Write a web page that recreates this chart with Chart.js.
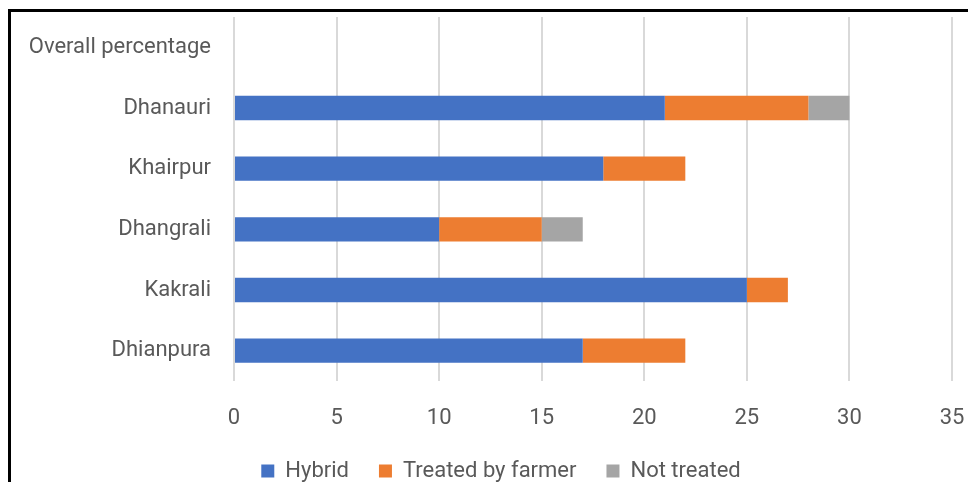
<!DOCTYPE html>
<html lang="en">
<head>
    <meta charset="UTF-8">
    <title>Seed treatment by village</title>
    <style>
        html, body { margin: 0; padding: 0; background: #fff; overflow: hidden; }
        #frame {
            position: absolute;
            left: 8px;
            top: 9px;
            width: 1100px;
            height: 600px;
            border-top: 3px solid #000;
            border-left: 3px solid #000;
        }
        #wrap {
            position: absolute;
            left: 0;
            top: 0;
            width: 968px;
            height: 492px;
        }
    </style>
</head>
<body>
    <div id="frame"></div>
    <div id="wrap"><canvas id="myBarChart"></canvas></div>

    <script src="https://cdn.jsdelivr.net/npm/chart.js"></script>

    <script>
        const villages = ['Overall percentage', 'Dhanauri', 'Khairpur', 'Dhangrali', 'Kakrali', 'Dhianpura'];
        const hybrid = [null, 21, 18, 10, 25, 17];
        const treatedByFarmer = [null, 7, 4, 5, 2, 5];
        const notTreated = [null, 2, 0, 2, 0, 0];
        const xTicks = [0, 5, 10, 15, 20, 25, 30, 35];

        const textColor = '#595959';
        const fontFamily = 'Roboto, "Open Sans", sans-serif';

        // nudge the legend a bit right, Excel centres it under the plot
        const legendShift = {
            id: 'legendShift',
            afterLayout(chart) {
                chart.legend.left += 50;
            }
        };

        const ctx = document.getElementById('myBarChart').getContext('2d');
        const myBarChart = new Chart(ctx, {
            type: 'bar',
            data: {
                labels: villages,
                datasets: [
                    { label: 'Hybrid', data: hybrid, backgroundColor: '#4472C4' },
                    { label: 'Treated by farmer', data: treatedByFarmer, backgroundColor: '#ED7D31' },
                    { label: 'Not treated', data: notTreated, backgroundColor: '#A5A5A5' }
                ]
            },
            options: {
                indexAxis: 'y',
                responsive: true,
                maintainAspectRatio: false,
                animation: false,
                datasets: {
                    bar: { categoryPercentage: 1, barPercentage: 0.4 }
                },
                layout: {
                    padding: { top: 17, right: 16, left: 0, bottom: 0 }
                },
                scales: {
                    x: {
                        stacked: true,
                        min: 0,
                        max: 35,
                        afterBuildTicks: (scale) => {
                            scale.ticks = xTicks.map(v => ({ value: v }));
                        },
                        afterFit: (scale) => {
                            scale.height = 49;
                            scale.paddingLeft = 0;
                            scale.paddingRight = 0;
                        },
                        grid: { color: '#d9d9d9', lineWidth: 2, drawTicks: false },
                        border: { display: false },
                        ticks: {
                            color: textColor,
                            padding: 24,
                            font: { family: fontFamily, size: 22 }
                        }
                    },
                    y: {
                        stacked: true,
                        afterFit: (scale) => {
                            scale.width = 234;
                            scale.paddingTop = 0;
                            scale.paddingBottom = 0;
                        },
                        grid: { display: false, drawTicks: false },
                        border: { display: false },
                        ticks: {
                            color: textColor,
                            padding: 23,
                            font: { family: fontFamily, size: 22 }
                        }
                    }
                },
                plugins: {
                    legend: {
                        position: 'bottom',
                        labels: {
                            color: textColor,
                            boxWidth: 13,
                            boxHeight: 13,
                            padding: 30,
                            font: { family: fontFamily, size: 22 }
                        }
                    },
                    tooltip: { enabled: false }
                }
            },
            plugins: [legendShift]
        });
    </script>
</body>
</html>
